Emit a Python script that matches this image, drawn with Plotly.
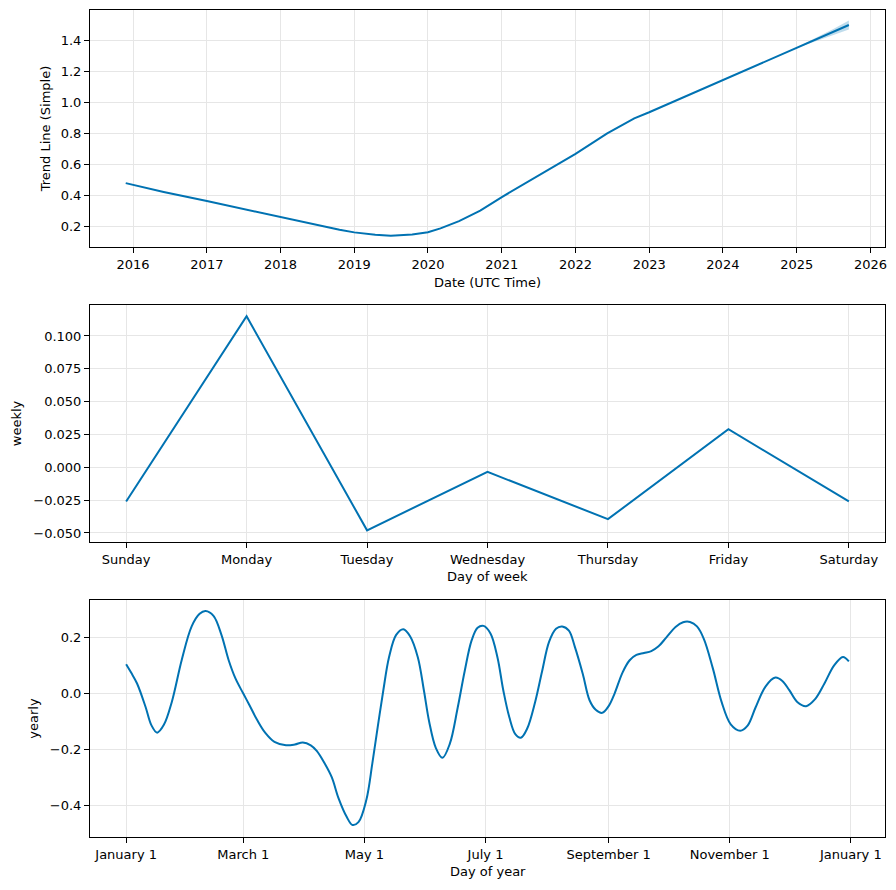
import plotly.graph_objects as go

# ---- Trend panel data ----
trend_dates = ["2015-11-26", "2016-06-01", "2017-01-01", "2018-01-01", "2018-10-20",
               "2019-01-01", "2019-04-15", "2019-07-01", "2019-10-15", "2020-01-01",
               "2020-03-03", "2020-06-03", "2020-09-16", "2021-01-01", "2022-01-01",
               "2022-06-07", "2022-10-19", "2023-01-01", "2024-01-01", "2025-01-01",
               "2025-04-01", "2025-07-01", "2025-09-16"]
trend_vals = [0.477, 0.420, 0.361, 0.256, 0.176,
              0.159, 0.143, 0.137, 0.146, 0.160,
              0.185, 0.232, 0.299, 0.387, 0.666,
              0.798, 0.895, 0.934, 1.142, 1.351,
              1.401, 1.452, 1.497]
band_dates = ["2025-01-01", "2025-04-01", "2025-07-01", "2025-09-16"]
band_lower = [1.349, 1.392, 1.432, 1.468]
band_upper = [1.353, 1.410, 1.472, 1.526]
trend_ticks = ["2016", "2017", "2018", "2019", "2020", "2021", "2022", "2023", "2024", "2025", "2026"]

# ---- Weekly panel data ----
week_days = ["Sunday", "Monday", "Tuesday", "Wednesday", "Thursday", "Friday", "Saturday"]
week_vals = [-0.026, 0.115, -0.048, -0.0035, -0.0395, 0.029, -0.026]

# ---- Yearly panel data (day of year, value) ----
year_days = [0, 2.5, 5.5, 9.8, 12.7, 15.6, 19, 23, 28, 33, 37, 40, 44, 48, 51.6, 55, 59, 62, 66, 70,
             74.7, 80.5, 85, 89, 93, 96, 100, 103.6, 107, 111, 114, 117, 121, 124, 126.7,
             129.5, 132.4, 136, 139.6, 143, 146.9, 150, 152.6, 156, 159.3, 163, 167, 170.5,
             174, 177, 180, 183.5, 187, 190, 193, 196, 198.8, 202, 206, 209.5, 213, 216.5,
             219.6, 223, 226, 230, 233.4, 236.5, 239.8, 243, 246, 250, 253.6, 257, 260.8,
             264.5, 268, 272, 276.7, 280.5, 284, 287.5, 291, 295.5, 299.9, 304.5, 309.3,
             313, 317, 322, 327, 330.5, 334, 338, 342.5, 347, 351.7, 356.5, 361, 364]
year_vals = [0.105, 0.075, 0.036, -0.048, -0.113, -0.140, -0.112, -0.030, 0.120, 0.240, 0.285,
             0.295, 0.278, 0.210, 0.120, 0.055, 0.000, -0.040, -0.095, -0.140,
             -0.173, -0.185, -0.182, -0.175, -0.185, -0.205, -0.250, -0.300, -0.375,
             -0.440, -0.470, -0.460, -0.380, -0.250, -0.120, 0.010, 0.130, 0.210, 0.230,
             0.205, 0.130, 0.010, -0.100, -0.195, -0.230, -0.180, -0.050, 0.080, 0.190,
             0.235, 0.242, 0.215, 0.130, 0.010, -0.085, -0.145, -0.158, -0.125, -0.030,
             0.080, 0.185, 0.232, 0.240, 0.225, 0.167, 0.070, -0.024, -0.058, -0.069,
             -0.045, 0.000, 0.075, 0.119, 0.138, 0.145, 0.152, 0.168, 0.200, 0.238,
             0.255, 0.256, 0.240, 0.195, 0.090, -0.030, -0.110, -0.133, -0.115, -0.050,
             0.025, 0.057, 0.045, 0.012, -0.030, -0.045, -0.020, 0.036, 0.100, 0.131, 0.115]
year_tickvals = [0, 59, 120, 181, 243, 304, 365]
year_ticktext = ["January 1", "March 1", "May 1", "July 1", "September 1", "November 1", "January 1"]

x_titles = ["Date (UTC Time)", "Day of week", "Day of year"]
y_titles = ["Trend Line (Simple)", "weekly", "yearly"]

LINE = "#0072B2"
FONT = "DejaVu Sans"

fig = go.Figure()

# band
fig.add_trace(go.Scatter(x=band_dates, y=band_upper, mode="lines", line=dict(width=0),
                         showlegend=False, hoverinfo="skip", xaxis="x", yaxis="y"))
fig.add_trace(go.Scatter(x=band_dates, y=band_lower, mode="lines", line=dict(width=0),
                         fill="tonexty", fillcolor="rgba(0,114,178,0.25)",
                         showlegend=False, hoverinfo="skip", xaxis="x", yaxis="y"))
fig.add_trace(go.Scatter(x=trend_dates, y=trend_vals, mode="lines",
                         line=dict(color=LINE, width=2), showlegend=False,
                         xaxis="x", yaxis="y"))
fig.add_trace(go.Scatter(x=list(range(len(week_days))), y=week_vals, mode="lines",
                         line=dict(color=LINE, width=2), showlegend=False,
                         xaxis="x2", yaxis="y2"))
fig.add_trace(go.Scatter(x=year_days, y=year_vals, mode="lines",
                         line=dict(color=LINE, width=2, shape="spline", smoothing=1.0),
                         showlegend=False, xaxis="x3", yaxis="y3"))

axis_common = dict(showline=True, linecolor="black", linewidth=1.1, mirror=True,
                   ticks="outside", ticklen=5, tickwidth=1, tickcolor="black",
                   showgrid=True, gridcolor="#e6e6e6", gridwidth=1, zeroline=False,
                   automargin=False,
                   tickfont=dict(family=FONT, size=13, color="black"),
                   title_font=dict(family=FONT, size=13, color="black"))

d1 = [0.7134, 1.0]
d2 = [0.3567, 0.6433]
d3 = [0.0, 0.2866]

fig.update_layout(
    width=896, height=890,
    margin=dict(l=90, r=11, t=10, b=53),
    plot_bgcolor="white", paper_bgcolor="white",
    font=dict(family=FONT, size=13, color="black"),
    xaxis=dict(axis_common, anchor="y", domain=[0, 1], type="date",
               range=["2015-06-02", "2026-03-14"],
               tickvals=[t + "-01-01" for t in trend_ticks], ticktext=trend_ticks),
    yaxis=dict(axis_common, anchor="x", domain=d1, range=[0.0645, 1.594],
               tickvals=[0.2, 0.4, 0.6, 0.8, 1.0, 1.2, 1.4], tickformat=".1f",
               title=dict(text=y_titles[0], standoff=7)),
    xaxis2=dict(axis_common, anchor="y2", domain=[0, 1], range=[-0.3, 6.3],
                tickvals=list(range(len(week_days))), ticktext=week_days),
    yaxis2=dict(axis_common, anchor="x2", domain=d2, range=[-0.0569, 0.1236],
                tickvals=[-0.05, -0.025, 0, 0.025, 0.05, 0.075, 0.1], tickformat=".3f",
                title=dict(text=y_titles[1], standoff=8)),
    xaxis3=dict(axis_common, anchor="y3", domain=[0, 1], range=[-18.2, 382.2],
                tickvals=year_tickvals, ticktext=year_ticktext),
    yaxis3=dict(axis_common, anchor="x3", domain=d3, range=[-0.513, 0.3346],
                tickvals=[-0.4, -0.2, 0.0, 0.2], tickformat=".1f",
                title=dict(text=y_titles[2], standoff=8)),
)

# x-axis titles placed just below the tick labels of each panel
for title, ypos in zip(x_titles, [0.6711, 0.3144, -0.0423]):
    fig.add_annotation(text=title, xref="paper", yref="paper", x=0.5, y=ypos,
                       xanchor="center", yanchor="middle", showarrow=False,
                       font=dict(family=FONT, size=13, color="black"))

fig.write_html("out.html", config={"displayModeBar": False},
               post_script="document.body.style.margin='0';document.body.style.overflow='hidden';")
